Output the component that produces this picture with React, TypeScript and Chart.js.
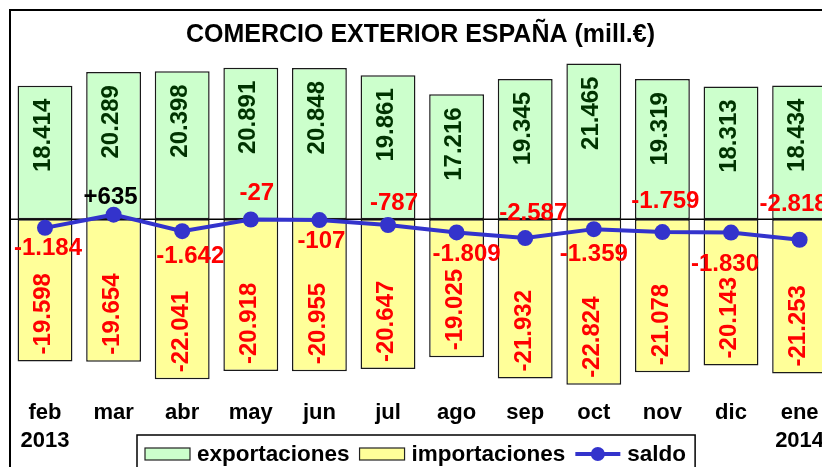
import React, { useEffect, useRef } from 'react';
import { Chart, registerables } from 'chart.js';

Chart.register(...registerables);

// ---- data ----
const categories: (string | string[])[] = [
  ['feb', '2013'], 'mar', 'abr', 'may', 'jun', 'jul', 'ago', 'sep', 'oct', 'nov', 'dic', ['ene', '2014'],
];
const exportaciones = [18414, 20289, 20398, 20891, 20848, 19861, 17216, 19345, 21465, 19319, 18313, 18434];
const importaciones = [-19598, -19654, -22041, -20918, -20955, -20647, -19025, -21932, -22824, -21078, -20143, -21253];
const saldo = [-1184, 635, -1642, -27, -107, -787, -1809, -2587, -1359, -1759, -1830, -2818];
const titleText = 'COMERCIO EXTERIOR ESPAÑA (mill.€)';

// ---- label placement (styling) ----
const saldoLabelDy = [21, -17, 25, -26, 21, -22, 22, -25, 25, -31, 32, -35];
const saldoLabelDx = [3, -3, 8, 6, 2, 6, 10, 8, 0, 3, -6, -6];

const W = 860;
const H = 490;
const FONT = "'Liberation Sans', Arial, sans-serif";
const GREEN = '#CCFFCC';
const YELLOW = '#FFFF99';
const BLUE = '#3333CC';

function fmt(v: number, plus = false): string {
  const s = Math.abs(Math.round(v)).toString().replace(/\B(?=(\d{3})+(?!\d))/g, '.');
  return (v < 0 ? '-' : plus && v > 0 ? '+' : '') + s;
}

const decorPlugin = {
  id: 'decor',
  beforeDatasetsDraw(chart: any) {
    const { ctx, chartArea, scales } = chart;
    const y0 = scales.y.getPixelForValue(0);
    ctx.save();
    ctx.strokeStyle = '#000';
    ctx.lineWidth = 1.5;
    ctx.beginPath();
    ctx.moveTo(chartArea.left, y0);
    ctx.lineTo(chartArea.right, y0);
    ctx.stroke();
    ctx.restore();
  },
  afterDatasetsDraw(chart: any) {
    const ctx = chart.ctx;
    const lineMeta = chart.getDatasetMeta(0);
    const expMeta = chart.getDatasetMeta(1);
    const impMeta = chart.getDatasetMeta(2);
    ctx.save();
    ctx.font = `bold 24px ${FONT}`;
    expMeta.data.forEach((bar: any, i: number) => {
      ctx.save();
      ctx.translate(bar.x + 4.6, bar.y + 13);
      ctx.rotate(-Math.PI / 2);
      ctx.textAlign = 'right';
      ctx.textBaseline = 'alphabetic';
      ctx.fillStyle = '#003300';
      ctx.fillText(fmt(exportaciones[i]), 0, 0);
      ctx.restore();
    });
    impMeta.data.forEach((bar: any, i: number) => {
      ctx.save();
      ctx.translate(bar.x + 5.3, bar.y - 7);
      ctx.rotate(-Math.PI / 2);
      ctx.textAlign = 'left';
      ctx.textBaseline = 'alphabetic';
      ctx.fillStyle = '#FF0000';
      ctx.fillText(fmt(importaciones[i]), 0, 0);
      ctx.restore();
    });
    ctx.textAlign = 'center';
    ctx.textBaseline = 'middle';
    lineMeta.data.forEach((pt: any, i: number) => {
      const v = saldo[i];
      ctx.fillStyle = v > 0 ? '#000000' : '#FF0000';
      ctx.fillText(fmt(v, true), pt.x + saldoLabelDx[i], pt.y + saldoLabelDy[i]);
    });
    ctx.restore();
  },
  afterDraw(chart: any) {
    const ctx = chart.ctx;
    ctx.save();
    // frame
    ctx.strokeStyle = '#000';
    ctx.lineWidth = 2;
    ctx.beginPath();
    ctx.moveTo(10, H);
    ctx.lineTo(10, 10);
    ctx.lineTo(W, 10);
    ctx.stroke();
    // title
    ctx.fillStyle = '#000';
    ctx.font = `bold 25px ${FONT}`;
    ctx.textAlign = 'center';
    ctx.textBaseline = 'alphabetic';
    ctx.fillText(titleText, 420.5, 42);
    // legend
    const ds = chart.data.datasets;
    const items = [ds[1], ds[2], ds[0]];
    ctx.font = `bold 22.5px ${FONT}`;
    const boxL = 137;
    const boxT = 435;
    let x = 145;
    const cy = 454;
    const positions: number[] = [];
    items.forEach((d: any) => {
      positions.push(x);
      x += 45 + 7 + ctx.measureText(d.label).width + 10;
    });
    const boxR = x - 10 + 9;
    ctx.fillStyle = '#fff';
    ctx.fillRect(boxL, boxT, boxR - boxL, H - boxT + 10);
    ctx.lineWidth = 1.5;
    ctx.strokeStyle = '#000';
    ctx.strokeRect(boxL, boxT, boxR - boxL, H - boxT + 10);
    items.forEach((d: any, k: number) => {
      const px = positions[k];
      if (d.type === 'line') {
        ctx.strokeStyle = d.borderColor;
        ctx.lineWidth = 4;
        ctx.beginPath();
        ctx.moveTo(px, cy);
        ctx.lineTo(px + 45, cy);
        ctx.stroke();
        ctx.fillStyle = d.borderColor;
        ctx.beginPath();
        ctx.arc(px + 22.5, cy, 7, 0, Math.PI * 2);
        ctx.fill();
      } else {
        ctx.fillStyle = d.backgroundColor;
        ctx.fillRect(px, cy - 6, 45, 12);
        ctx.lineWidth = 1.2;
        ctx.strokeStyle = '#222';
        ctx.strokeRect(px, cy - 6, 45, 12);
      }
      ctx.fillStyle = '#000';
      ctx.textAlign = 'left';
      ctx.textBaseline = 'alphabetic';
      ctx.fillText(d.label, px + 52, 461);
    });
    ctx.restore();
  },
};

export default function App() {
  const canvasRef = useRef<HTMLCanvasElement | null>(null);

  useEffect(() => {
    const canvas = canvasRef.current;
    if (!canvas) return;
    const chart = new Chart(canvas, {
      type: 'bar',
      data: {
        labels: categories as any,
        datasets: [
          {
            type: 'line',
            label: 'saldo',
            data: saldo,
            borderColor: BLUE,
            backgroundColor: BLUE,
            borderWidth: 4,
            pointRadius: 8,
            pointBackgroundColor: BLUE,
            pointBorderColor: BLUE,
            pointBorderWidth: 0,
            tension: 0,
            order: 0,
          } as any,
          {
            type: 'bar',
            label: 'exportaciones',
            data: exportaciones,
            backgroundColor: GREEN,
            borderColor: '#1a1a1a',
            borderWidth: 1.5,
            borderSkipped: false,
            grouped: false,
            categoryPercentage: 1,
            barPercentage: 0.8,
            order: 1,
          } as any,
          {
            type: 'bar',
            label: 'importaciones',
            data: importaciones,
            backgroundColor: YELLOW,
            borderColor: '#1a1a1a',
            borderWidth: 1.5,
            borderSkipped: false,
            grouped: false,
            categoryPercentage: 1,
            barPercentage: 0.8,
            order: 2,
          } as any,
        ],
      },
      options: {
        responsive: false,
        animation: false,
        devicePixelRatio: 1,
        layout: { padding: { left: 10.7, right: 26.1, top: 37.9, bottom: H - 393.4 - 60 } },
        plugins: {
          legend: { display: false },
          title: { display: false },
          tooltip: { enabled: false },
        },
        scales: {
          x: {
            display: true,
            offset: true,
            grid: { display: false, drawTicks: false },
            border: { display: false },
            ticks: {
              autoSkip: false,
              maxRotation: 0,
              minRotation: 0,
              padding: 5.6,
              color: '#000',
              font: { family: FONT, size: 22, weight: 'bold', lineHeight: 28 / 22 },
            },
            afterFit: (s: any) => {
              s.height = 60;
            },
          },
          y: {
            display: false,
            min: -24000,
            max: 25000,
          },
        },
      } as any,
      plugins: [decorPlugin],
    });
    return () => chart.destroy();
  }, []);

  return (
    <div style={{ position: 'absolute', left: 0, top: 0, width: 822, height: 467, overflow: 'hidden', background: '#fff' }}>
      <canvas ref={canvasRef} width={W} height={H} style={{ display: 'block', width: W, height: H }} />
    </div>
  );
}
